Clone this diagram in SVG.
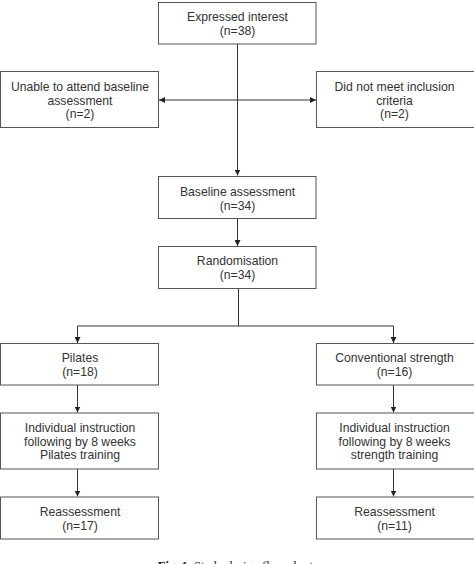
<svg xmlns="http://www.w3.org/2000/svg" width="474" height="564" viewBox="0 0 474 564">
<defs>
<marker id="ah" viewBox="0 0 10 10" refX="10" refY="5" markerWidth="6" markerHeight="6" orient="auto" markerUnits="userSpaceOnUse">
<path d="M0,0 L10,5 L0,10 z" fill="#222"/>
</marker>
<style>
.box{fill:#fff;stroke:#555;stroke-width:1}
.t{font-family:"Liberation Sans",Arial,sans-serif;font-size:12.2px;fill:#333;text-anchor:middle}
.c{fill:none;stroke:#333;stroke-width:1}
.cap{font-family:"Liberation Serif","Times New Roman",serif;font-size:12.5px;fill:#222;text-anchor:middle}
</style>
</defs>
<rect width="474" height="564" fill="#fff"/>
<g id="connectors">
<path class="c" d="M237.5,44 V175.5" marker-end="url(#ah)"/>
<path class="c" d="M237.5,100 H159" marker-end="url(#ah)"/>
<path class="c" d="M237.5,100 H316" marker-end="url(#ah)"/>
<path class="c" d="M237.5,218.5 V246" marker-end="url(#ah)"/>
<path class="c" d="M238.5,288.5 V326"/>
<path class="c" d="M77.5,326 H393.5"/>
<path class="c" d="M77.5,326 V343" marker-end="url(#ah)"/>
<path class="c" d="M393.5,326 V343" marker-end="url(#ah)"/>
<path class="c" d="M77.5,385 V412.5" marker-end="url(#ah)"/>
<path class="c" d="M393.5,385 V412.5" marker-end="url(#ah)"/>
<path class="c" d="M77.5,469 V496.5" marker-end="url(#ah)"/>
<path class="c" d="M393.5,469 V496.5" marker-end="url(#ah)"/>
</g>
<g id="expressed">
<rect class="box" x="158.5" y="2.5" width="157.5" height="41.5"/>
<text class="t" x="237.5" y="20.7">Expressed interest</text>
<text class="t" x="237.5" y="34.5">(n=38)</text>
</g>
<g id="unable">
<rect class="box" x="0.5" y="71.5" width="158" height="56"/>
<text class="t" x="80" y="90.7">Unable to attend baseline</text>
<text class="t" x="80" y="104.5">assessment</text>
<text class="t" x="80" y="118.3">(n=2)</text>
</g>
<g id="notmeet">
<rect class="box" x="316.5" y="71.5" width="160" height="56"/>
<text class="t" x="394.5" y="90.7">Did not meet inclusion</text>
<text class="t" x="394.5" y="104.5">criteria</text>
<text class="t" x="394.5" y="118.3">(n=2)</text>
</g>
<g id="baseline">
<rect class="box" x="158.5" y="176.5" width="157.5" height="42"/>
<text class="t" x="237.5" y="196">Baseline assessment</text>
<text class="t" x="237.5" y="209.8">(n=34)</text>
</g>
<g id="random">
<rect class="box" x="158.5" y="246.5" width="157.5" height="42"/>
<text class="t" x="237.5" y="265">Randomisation</text>
<text class="t" x="237.5" y="278.8">(n=34)</text>
</g>
<g id="pilates">
<rect class="box" x="0.5" y="343.5" width="158" height="41.5"/>
<text class="t" x="80" y="361.7">Pilates</text>
<text class="t" x="80" y="375.5">(n=18)</text>
</g>
<g id="conventional">
<rect class="box" x="316.5" y="343.5" width="160" height="41.5"/>
<text class="t" x="394.5" y="361.7">Conventional strength</text>
<text class="t" x="394.5" y="375.5">(n=16)</text>
</g>
<g id="pilatesTraining">
<rect class="box" x="0.5" y="413" width="158" height="56"/>
<text class="t" x="80" y="431.7">Individual instruction</text>
<text class="t" x="80" y="445.5">following by 8 weeks</text>
<text class="t" x="80" y="459.3">Pilates training</text>
</g>
<g id="strengthTraining">
<rect class="box" x="316.5" y="413" width="160" height="56"/>
<text class="t" x="394.5" y="431.7">Individual instruction</text>
<text class="t" x="394.5" y="445.5">following by 8 weeks</text>
<text class="t" x="394.5" y="459.3">strength training</text>
</g>
<g id="reassessLeft">
<rect class="box" x="0.5" y="497" width="158" height="42"/>
<text class="t" x="80" y="515.7">Reassessment</text>
<text class="t" x="80" y="529.5">(n=17)</text>
</g>
<g id="reassessRight">
<rect class="box" x="316.5" y="497" width="160" height="42"/>
<text class="t" x="394.5" y="515.7">Reassessment</text>
<text class="t" x="394.5" y="529.5">(n=11)</text>
</g>
<text class="cap" x="237" y="569.5"><tspan font-weight="bold">Fig. 1.</tspan> Study design flow chart.</text>
</svg>
